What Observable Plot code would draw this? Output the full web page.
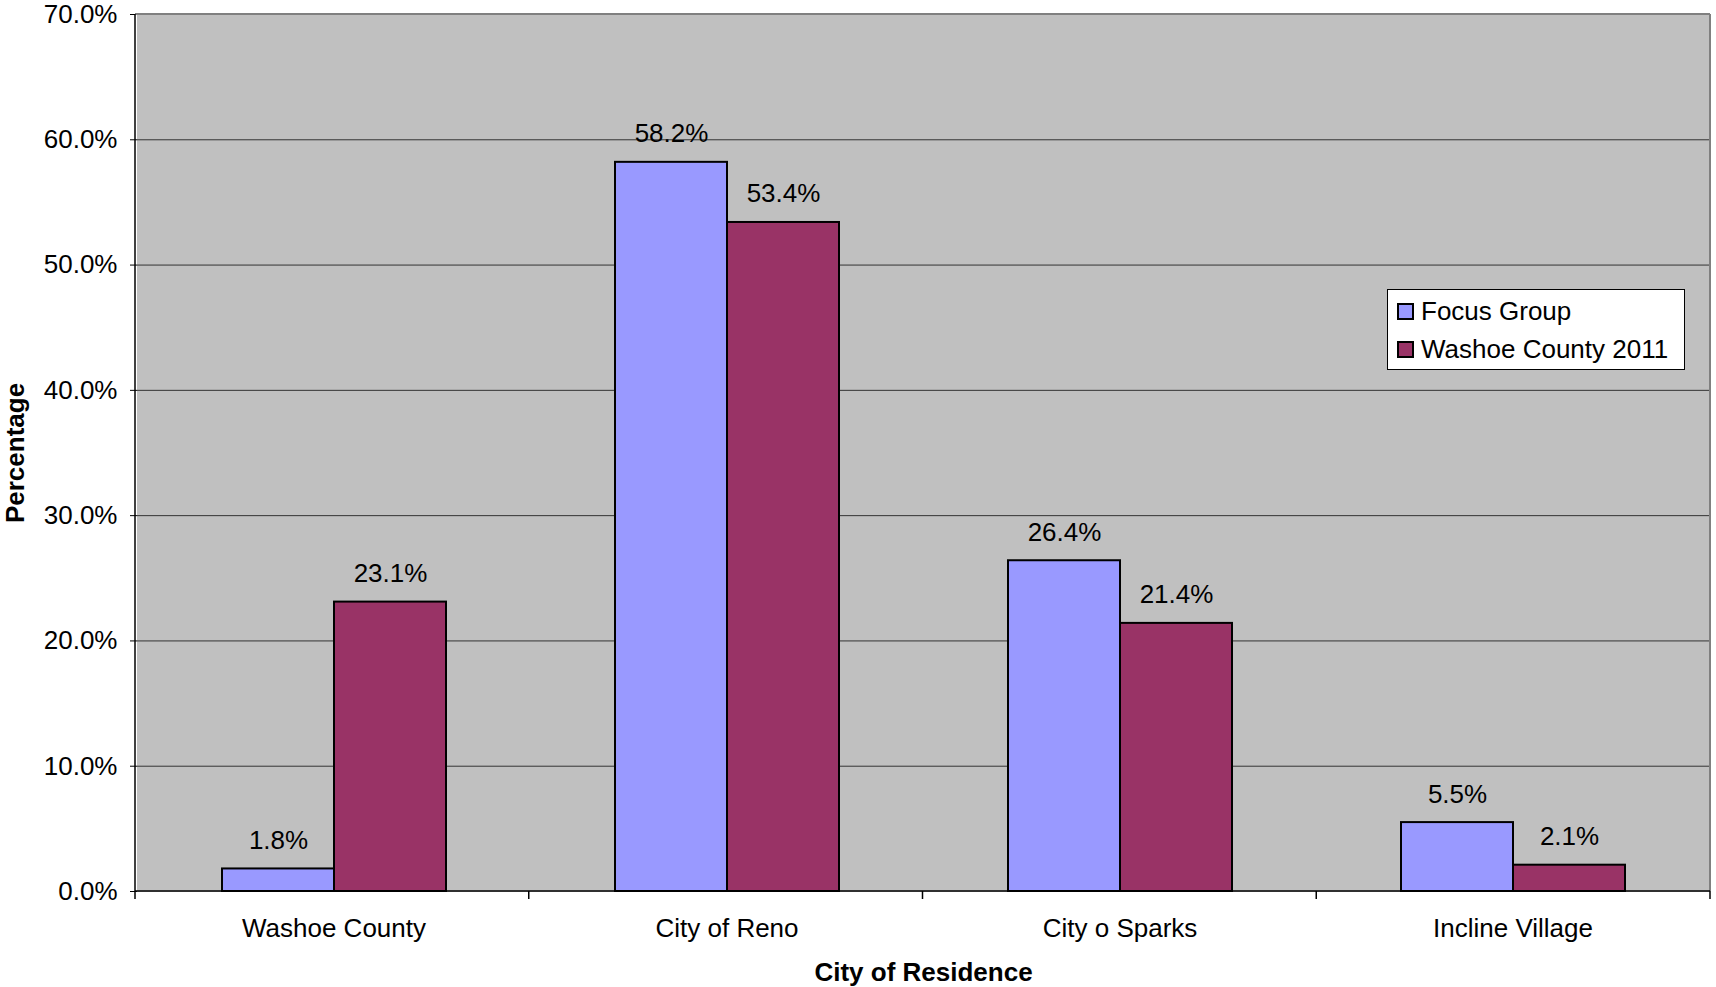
<!DOCTYPE html>
<html>
<head>
<meta charset="utf-8">
<script src="https://cdn.jsdelivr.net/npm/d3@7"></script>
<script src="https://cdn.jsdelivr.net/npm/@observablehq/plot@0.6"></script>
<style>
  html, body { margin: 0; padding: 0; background: #fff; }
  body { font-family: "Liberation Sans", Arial, sans-serif; }
  #wrap { position: relative; width: 1716px; height: 987px; overflow: hidden; }
  #legend {
    position: absolute; left: 1387px; top: 289px; width: 296px; height: 77px;
    background: #fff; border: 1px solid #000; box-sizing: content-box;
    font-size: 26px; color: #000; padding-top: 2px;
  }
  #legend .row { display: flex; align-items: center; height: 38px; padding-left: 9px; white-space: nowrap; }
  #legend .sw { width: 13px; height: 13px; border: 2px solid #000; margin-right: 7px; flex: none; }
</style>
</head>
<body>
<div id="wrap"></div>
<script>
// ---- data ----
const categories = ["Washoe County", "City of Reno", "City o Sparks", "Incline Village"];
const seriesNames = ["Focus Group", "Washoe County 2011"];
const focusGroup = [1.8, 58.2, 26.4, 5.5];
const washoeCounty2011 = [23.1, 53.4, 21.4, 2.1];
const seriesColors = ["#9999FF", "#993366"];
const yTicks = [0, 10, 20, 30, 40, 50, 60, 70];
const xTitle = "City of Residence";
const yTitle = "Percentage";

const seriesValues = [focusGroup, washoeCounty2011];
const data = [];
categories.forEach((c, i) => {
  seriesNames.forEach((s, j) => data.push({category: c, series: s, value: seriesValues[j][i]}));
});
const fmt = d => d.toFixed(1) + "%";

const plot = Plot.plot({
  width: 1716,
  height: 987,
  marginTop: 14,
  marginBottom: 96,
  marginLeft: 135,
  marginRight: 6,
  style: {fontFamily: "Liberation Sans, Arial, sans-serif", fontSize: "26px", color: "#000", background: "transparent", overflow: "visible"},
  fx: {domain: categories, padding: 0},
  x: {domain: seriesNames, paddingInner: 0, paddingOuter: 0.74, axis: null},
  y: {domain: [0, 70]},
  color: {domain: seriesNames, range: seriesColors},
  marks: [
    Plot.frame({fill: "#C0C0C0", stroke: "#C0C0C0", strokeWidth: 1}),
    Plot.gridY(yTicks.filter(t => t > 0 && t < 70), {stroke: "#333", strokeOpacity: 1, strokeWidth: 1}),
    Plot.barY(data, {fx: "category", x: "series", y: "value", fill: "series", stroke: "#000", strokeWidth: 2}),
    Plot.text(data, {fx: "category", x: "series", y: "value", text: d => fmt(d.value), lineAnchor: "bottom", dy: -20, fontSize: 26, fill: "#000"}),
    Plot.axisY({ticks: yTicks, tickFormat: fmt, tickSize: 7, tickPadding: 13, fontSize: 26, label: yTitle, labelArrow: "none", labelAnchor: "center", labelOffset: 132}),
    Plot.axisFx({anchor: "bottom", tickSize: 0, tickPadding: 27, fontSize: 26, label: xTitle, labelArrow: "none", labelAnchor: "center", labelOffset: 89})
  ]
});

document.getElementById("wrap").appendChild(plot);

const svg = d3.select(plot.tagName.toLowerCase() === "svg" ? plot : plot.querySelector("svg"));
// bold axis titles, exact text
svg.selectAll('[aria-label="fx-axis label"]').attr("font-weight", "bold").selectAll("text").text(xTitle);
svg.selectAll('[aria-label="y-axis label"]').attr("font-weight", "bold").selectAll("text").text(yTitle);

// frame borders, axis lines and category boundary ticks from the plot's own scales
const fxS = plot.scale("fx");
const yS = plot.scale("y");
const band = d3.scaleBand(fxS.domain, fxS.range).paddingInner(fxS.paddingInner ?? 0).paddingOuter(fxS.paddingOuter ?? 0).align(fxS.align ?? 0.5);
const y0 = yS.apply(0), yTop = yS.apply(70);
const xL = band.range()[0], xR = band.range()[1];
const g = svg.append("g").attr("fill", "none");
g.append("line").attr("x1", xL).attr("x2", xR).attr("y1", yTop).attr("y2", yTop).attr("stroke", "#808080").attr("stroke-width", 2);
g.append("line").attr("x1", xR).attr("x2", xR).attr("y1", yTop).attr("y2", y0).attr("stroke", "#808080").attr("stroke-width", 2);
g.append("line").attr("x1", xL).attr("x2", xL).attr("y1", yTop).attr("y2", y0).attr("stroke", "#000").attr("stroke-width", 1.5);
g.append("line").attr("x1", xL).attr("x2", xR).attr("y1", y0).attr("y2", y0).attr("stroke", "#000").attr("stroke-width", 1.5);
const bounds = categories.map(c => band(c)).concat([band(categories[categories.length - 1]) + band.bandwidth()]);
bounds.forEach(b => g.append("line").attr("x1", b).attr("x2", b).attr("y1", y0).attr("y2", y0 + 8).attr("stroke", "#000").attr("stroke-width", 1.5));

// legend
const legend = document.createElement("div");
legend.id = "legend";
seriesNames.forEach((s, i) => {
  const row = document.createElement("div");
  row.className = "row";
  const sw = document.createElement("span");
  sw.className = "sw";
  sw.style.background = seriesColors[i];
  const t = document.createElement("span");
  t.textContent = s;
  row.appendChild(sw); row.appendChild(t);
  legend.appendChild(row);
});
document.getElementById("wrap").appendChild(legend);
</script>
</body>
</html>
